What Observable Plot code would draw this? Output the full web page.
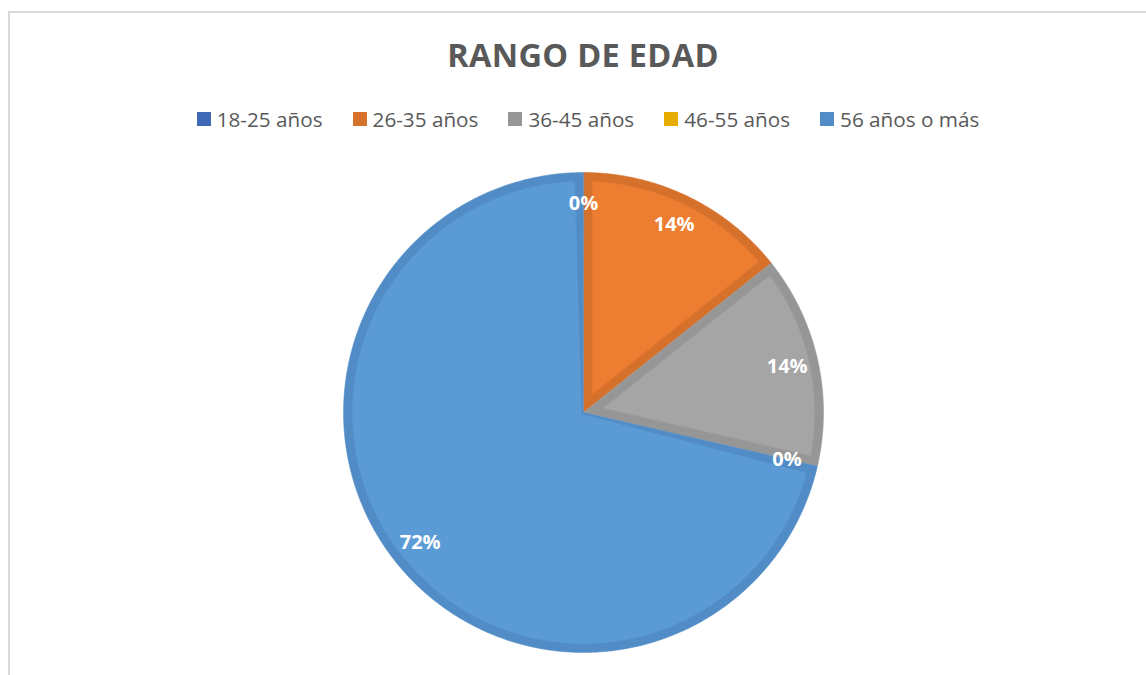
<!DOCTYPE html>
<html>
<head>
<meta charset="utf-8">
<script src="https://cdn.jsdelivr.net/npm/d3@7"></script>
<script src="https://cdn.jsdelivr.net/npm/@observablehq/plot@0.6"></script>
<style>
  html, body { margin: 0; padding: 0; background: #fff; }
  body { width: 1146px; height: 675px; overflow: hidden; position: relative; font-family: "Open Sans", "Liberation Sans", sans-serif; }
  #frame { position: absolute; left: 8px; top: 11px; width: 1200px; height: 700px; border-left: 2px solid #d9d9d9; border-top: 2px solid #d9d9d9; }
  #title { position: absolute; left: 0; top: 32px; width: 1166px; text-align: center; font-size: 32.5px; font-weight: 700; color: #595959; letter-spacing: 0.3px; }
  #legend { position: absolute; left: 0; top: 105px; width: 1176px; display: flex; justify-content: center; gap: 30px; font-size: 20.7px; color: #595959; }
  .item { display: flex; align-items: center; }
  .sw { width: 14px; height: 14px; margin-right: 6px; }
  #chart { position: absolute; left: 0; top: 150px; }
</style>
</head>
<body>
<div id="frame"></div>
<div id="title">RANGO DE EDAD</div>
<div id="legend"></div>
<div id="chart"></div>
<script>
const categories = ["18-25 años", "26-35 años", "36-45 años", "46-55 años", "56 años o más"];
const values = [0, 14.3, 14.3, 0, 71.4];
const labels = ["0%", "14%", "14%", "0%", "72%"];
const fillColors = ["#4472C4", "#ED7D31", "#A5A5A5", "#FFC000", "#5B9BD5"];
const borderColors = ["#3F68B5", "#D6712C", "#969696", "#E6AD00", "#518CC6"];

// legend
const legend = document.getElementById("legend");
categories.forEach((c, i) => {
  const it = document.createElement("div");
  it.className = "item";
  const sw = document.createElement("div");
  sw.className = "sw";
  sw.style.background = borderColors[i];
  const t = document.createElement("span");
  t.textContent = c;
  it.appendChild(sw); it.appendChild(t);
  legend.appendChild(it);
});

// pie geometry (unit radius), angles clockwise from top
const R = 1;
const inset = 9 / 240; // border thickness relative to radius
const pie = d3.pie().sort(null).value(d => d)(values);
const pt = (a, r) => [r * Math.sin(a), r * Math.cos(a)];

const outer = [], inner = [], labelData = [];
pie.forEach((p, i) => {
  const a0 = p.startAngle, a1 = p.endAngle, th = a1 - a0;
  const mid = (a0 + a1) / 2;
  const [lx, ly] = pt(mid, 0.87);
  labelData.push({x: lx, y: ly, label: labels[i]});
  if (th <= 0) return;
  const key = categories[i];
  const o = [{key, c: borderColors[i], x: 0, y: 0}];
  const n = Math.max(4, Math.ceil(th / (Math.PI / 360)));
  for (let k = 0; k <= n; k++) {
    const [x, y] = pt(a0 + th * k / n, R);
    o.push({key, c: borderColors[i], x, y});
  }
  outer.push(...o);
  const ri = R - inset;
  const da = Math.asin(inset / ri);
  const q = [];
  if (th < Math.PI) {
    const [vx, vy] = pt(mid, inset / Math.sin(th / 2));
    q.push({key, c: fillColors[i], x: vx, y: vy});
  } else {
    const s = a0 + Math.PI / 2, e = a1 - Math.PI / 2;
    for (let k = 0; k <= 20; k++) {
      const [x, y] = pt(s + (e - s) * k / 20, inset);
      q.push({key, c: fillColors[i], x, y});
    }
  }
  const b0 = a0 + da, b1 = a1 - da;
  for (let k = 0; k <= n; k++) {
    const [x, y] = pt(b0 + (b1 - b0) * k / n, ri);
    q.push({key, c: fillColors[i], x, y});
  }
  inner.push(...q);
});

const cx = 583, cy = 262, rad = 240;
const chart = Plot.plot({
  width: 1146,
  height: 525,
  margin: 0,
  x: {domain: [-1, 1], range: [cx - rad, cx + rad], axis: null},
  y: {domain: [-1, 1], range: [cy + rad, cy - rad], axis: null},
  color: {type: "identity"},
  marks: [
    Plot.line(outer, {x: "x", y: "y", z: "key", fill: "c", stroke: "c", strokeWidth: 0.5, curve: "linear-closed"}),
    Plot.line(inner, {x: "x", y: "y", z: "key", fill: "c", stroke: "c", strokeWidth: 0.5, curve: "linear-closed"}),
    Plot.text(labelData, {x: "x", y: "y", text: "label", fill: "white", fontSize: 20, fontWeight: 700, fontFamily: "Open Sans"})
  ]
});
document.getElementById("chart").appendChild(chart);
</script>
</body>
</html>
